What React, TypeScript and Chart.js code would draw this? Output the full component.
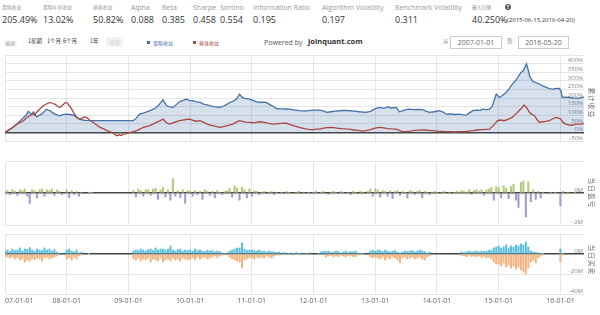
import React, { useEffect, useRef } from "react";
import { Chart, registerables } from "chart.js";
Chart.register(...registerables);

// ---------- data ----------
const statLabels = ["策略收益", "策略年化收益", "基准收益", "Alpha", "Beta", "Sharpe", "Sortino", "Information Ratio", "Algorithm Volatility", "Benchmark Volatility", "最大回撤"];
const statValues = ["205.49%", "13.02%", "50.82%", "0.088", "0.385", "0.458", "0.554", "0.195", "0.197", "0.311", "40.250%"];
const drawdownPeriod = "(2015-06-15,2016-04-20)";
const zoomButtons = ["1星期", "1个月", "6个月", "1年"];
const seriesNames = ["策略收益", "基准收益"];
const dateFrom = "2007-01-01";
const dateTo = "2016-05-20";
const panelTitles = ["累计收益", "当日盈亏", "当日买卖"];

const xStartYear = 2007;
const xEndYear = 2016.382; // 2016-05-20
const yearTicks = [2007, 2008, 2009, 2010, 2011, 2012, 2013, 2014, 2015, 2016];

// strategy cumulative return (%), by decimal year
const stratDates = [2007.00, 2007.04, 2007.08, 2007.12, 2007.16, 2007.19, 2007.23, 2007.27, 2007.30, 2007.34, 2007.38, 2007.41, 2007.43, 2007.46, 2007.49, 2007.51, 2007.55, 2007.59, 2007.63, 2007.67, 2007.70, 2007.73, 2007.77, 2007.81, 2007.85, 2007.89, 2007.93, 2008.00, 2008.05, 2008.11, 2008.15, 2008.21, 2008.26, 2008.30, 2008.38, 2009.08, 2009.12, 2009.18, 2009.24, 2009.30, 2009.35, 2009.40, 2009.44, 2009.48, 2009.52, 2009.56, 2009.59, 2009.62, 2009.66, 2009.72, 2009.77, 2009.82, 2009.86, 2009.90, 2009.94, 2009.98, 2010.05, 2010.10, 2010.16, 2010.22, 2010.27, 2010.32, 2010.38, 2010.43, 2010.48, 2010.53, 2010.58, 2010.64, 2010.70, 2010.75, 2010.78, 2010.80, 2010.84, 2010.88, 2010.92, 2010.96, 2011.03, 2011.08, 2011.13, 2011.18, 2011.23, 2011.30, 2011.36, 2011.40, 2011.48, 2011.55, 2011.61, 2011.68, 2011.77, 2011.85, 2011.95, 2012.04, 2012.10, 2012.16, 2012.21, 2012.28, 2012.35, 2012.42, 2012.50, 2012.58, 2012.66, 2012.74, 2012.85, 2012.92, 2013.00, 2013.07, 2013.14, 2013.20, 2013.26, 2013.34, 2013.37, 2013.39, 2013.45, 2013.50, 2013.55, 2013.62, 2013.70, 2013.77, 2013.82, 2013.88, 2013.95, 2014.04, 2014.10, 2014.15, 2014.22, 2014.30, 2014.36, 2014.42, 2014.47, 2014.52, 2014.58, 2014.64, 2014.70, 2014.74, 2014.80, 2014.85, 2014.89, 2014.93, 2014.96, 2015.01, 2015.06, 2015.12, 2015.17, 2015.22, 2015.27, 2015.31, 2015.36, 2015.40, 2015.45, 2015.48, 2015.50, 2015.55, 2015.60, 2015.66, 2015.71, 2015.77, 2015.82, 2015.87, 2015.92, 2015.98, 2016.01, 2016.03, 2016.08, 2016.14, 2016.20, 2016.26, 2016.30, 2016.35, 2016.38];
const stratRet = [0, 8, 19, 28, 40, 48, 62, 75, 87, 100, 122, 110, 106, 120, 104, 90, 98, 106, 118, 135, 130, 126, 115, 106, 100, 97, 103, 106, 104, 100, 90, 77, 72, 70, 68, 68, 80, 106, 112, 120, 126, 135, 142, 155, 172, 190, 170, 155, 150, 145, 160, 176, 184, 188, 194, 186, 184, 178, 174, 165, 160, 155, 150, 148, 145, 152, 160, 174, 182, 194, 210, 223, 205, 198, 196, 194, 185, 178, 174, 176, 174, 160, 148, 139, 137, 136, 135, 131, 126, 124, 128, 130, 130, 125, 116, 120, 124, 126, 128, 126, 124, 120, 116, 122, 138, 145, 140, 148, 142, 145, 130, 120, 126, 132, 135, 132, 134, 132, 124, 116, 120, 126, 118, 106, 108, 104, 106, 102, 100, 112, 126, 130, 128, 135, 132, 135, 150, 190, 223, 203, 215, 232, 255, 281, 300, 320, 349, 360, 398, 360, 327, 297, 290, 281, 270, 262, 255, 252, 255, 256, 240, 203, 205, 203, 200, 199, 197.5, 203, 205.5];

// benchmark cumulative return (%), by decimal year
const benchDates = [2007.00, 2007.05, 2007.09, 2007.13, 2007.18, 2007.23, 2007.27, 2007.30, 2007.35, 2007.40, 2007.45, 2007.48, 2007.51, 2007.55, 2007.58, 2007.62, 2007.67, 2007.70, 2007.73, 2007.77, 2007.81, 2007.85, 2007.89, 2007.93, 2007.97, 2008.00, 2008.03, 2008.06, 2008.08, 2008.12, 2008.16, 2008.21, 2008.24, 2008.28, 2008.32, 2008.37, 2008.43, 2008.48, 2008.54, 2008.60, 2008.65, 2008.70, 2008.75, 2008.81, 2008.85, 2008.88, 2008.91, 2008.96, 2009.02, 2009.08, 2009.14, 2009.19, 2009.24, 2009.30, 2009.35, 2009.40, 2009.45, 2009.50, 2009.56, 2009.60, 2009.64, 2009.67, 2009.72, 2009.78, 2009.83, 2009.88, 2009.94, 2009.99, 2010.05, 2010.10, 2010.16, 2010.22, 2010.27, 2010.32, 2010.38, 2010.43, 2010.48, 2010.54, 2010.60, 2010.65, 2010.69, 2010.74, 2010.80, 2010.85, 2010.90, 2010.96, 2011.03, 2011.08, 2011.13, 2011.20, 2011.27, 2011.34, 2011.40, 2011.48, 2011.56, 2011.62, 2011.70, 2011.77, 2011.85, 2011.92, 2011.99, 2012.05, 2012.10, 2012.16, 2012.22, 2012.31, 2012.38, 2012.45, 2012.52, 2012.58, 2012.65, 2012.72, 2012.80, 2012.85, 2012.92, 2013.00, 2013.07, 2013.14, 2013.20, 2013.27, 2013.34, 2013.40, 2013.45, 2013.50, 2013.57, 2013.64, 2013.72, 2013.80, 2013.86, 2013.93, 2014.00, 2014.07, 2014.15, 2014.22, 2014.30, 2014.36, 2014.44, 2014.52, 2014.58, 2014.65, 2014.72, 2014.80, 2014.85, 2014.90, 2014.95, 2014.98, 2015.03, 2015.09, 2015.15, 2015.22, 2015.27, 2015.33, 2015.37, 2015.41, 2015.45, 2015.50, 2015.54, 2015.58, 2015.62, 2015.66, 2015.71, 2015.76, 2015.82, 2015.87, 2015.93, 2015.98, 2016.01, 2016.04, 2016.09, 2016.14, 2016.20, 2016.25, 2016.30, 2016.35, 2016.38];
const benchRet = [0, 12, 20, 29, 45, 55, 62, 68, 85, 97, 108, 100, 116, 130, 142, 155, 165, 170, 174, 168, 164, 152, 145, 158, 170, 174, 160, 148, 135, 110, 90, 77, 82, 90, 87, 72, 58, 45, 29, 20, 10, 5, -5, -19, -14, -18, -10, -8, -2, 4, 12, 20, 29, 35, 40, 48, 58, 66, 77, 62, 52, 48, 55, 62, 68, 72, 75, 77, 70, 65, 68, 58, 50, 43, 38, 33, 29, 34, 40, 44, 48, 58, 68, 64, 60, 58, 56, 60, 62, 58, 52, 48, 50, 52, 54, 45, 36, 29, 22, 18, 16, 19, 19, 25, 28, 29, 25, 22, 20, 19, 14, 12, 8, 10, 16, 25, 29, 26, 22, 20, 19, 10, 4, 5, 8, 12, 13, 14, 12, 10, 8, 6, 4, 5, 3, 4, 5, 8, 10, 14, 16, 18, 19, 35, 55, 68, 72, 68, 76, 87, 105, 126, 140, 159, 145, 116, 105, 97, 75, 58, 62, 64, 68, 78, 87, 82, 77, 58, 48, 42, 43, 48, 48, 50, 51];

// bars: one value per 0.04-year period starting 2007.00 (25 per year)
const barStartYear = 2007;
const barPeriodYears = 0.04;
// daily profit / loss (M)
const pnlValues = [
  0.1, 0.15, -0.1, 0.2, 0.1, -0.15, 0.2, 0.15, 0.25, -0.2, -0.65, 0.2, 0.15, -0.3, 0.2, 0.25, -0.2, 0.2, 0.15, 0.25, -0.15, 0.2, 0.1, -0.1, 0,
  0.2, -0.3, 0.15, -0.1, 0.1, -0.2, 0.05, 0, 0, 0.05, 0.03, 0, 0, 0, 0, 0, 0, 0, 0, 0, 0, 0, 0, 0, 0,
  0, 0, 0.15, -0.25, 0.25, 0.15, -0.2, 0.2, 0.2, -0.15, 0.25, 0.3, -0.4, 0.2, 0.35, -0.25, 0.2, -0.45, 0.9, -0.2, 0.15, -0.3, 0.2, -0.65, 0.15,
  0.1, -0.2, 0.15, -0.1, 0.1, -0.4, 0.2, 0.1, -0.15, 0.1, -0.3, 0.15, 0.05, -0.1, 0.1, 0.15, 0.3, -0.25, 0.45, 0.3, -0.45, 0.35, 0.2, -0.3, 0.25,
  -0.2, 0.15, 0.1, -0.1, 0.05, 0.1, -0.05, 0.05, 0.1, -0.1, 0.05, 0, 0.05, -0.05, 0.1, 0.05, 0, -0.05, 0.05, 0.1, 0, 0.05, -0.05, 0.05, 0,
  0.05, 0.1, -0.05, 0.05, 0.1, 0, -0.1, 0.05, 0.1, 0.05, -0.05, 0.1, 0.05, 0, 0.05, -0.1, 0.1, 0.05, -0.05, 0.1, 0.05, 0, 0.1, 0.25, -0.2,
  0.25, 0.2, -0.25, 0.15, 0.1, -0.2, 0.15, -0.35, 0.1, 0.15, -0.15, 0.1, 0.05, -0.3, 0.15, 0.1, -0.1, 0.1, 0.15, -0.3, 0.1, 0.05, -0.1, 0.05, 0.1,
  0.05, -0.05, 0.05, 0.1, 0, 0.05, -0.05, 0.05, 0.1, 0.05, 0.15, 0.1, 0.05, 0.2, -0.1, 0.15, 0.2, 0.1, 0.2, -0.15, 0.2, 0.25, 0.35, -0.45, 0.4,
  0.35, -0.3, 0.45, 0.3, -0.35, 0.4, 0.55, -0.45, -0.9, 0.65, 0.75, -1.5, 0.7, -0.55, 0.2, -0.4, 0.1, -0.3, 0.05, 0, -0.05, 0.05, 0, 0.05, 0,
  -0.8, 0.1, 0, 0.05, 0, 0, 0.05, 0, 0,
];
// daily buys (M)
const buyValues = [
  3, 4, 2.5, 5, 3.5, 4, 6, 3, 5, 4.5, 6.5, 4, 3, 5, 4, 3.5, 6, 4, 5, 3, 4.5, 2, 0.5, 0, 0,
  4, 5, 3, 2, 4, 1, 2, 0, 0, 0.5, 0, 0, 0, 0, 0, 0, 0, 0, 0, 0, 0, 0, 0, 0, 0,
  0, 0, 3, 4, 3.5, 5, 4, 3, 4.5, 5, 3.5, 6, 4, 5, 5, 4, 5, 8, 4, 3, 4.5, 5, 3, 4, 3.5,
  4, 3, 5, 3.5, 4, 3, 2.5, 4, 3, 3.5, 2, 3, 2.5, 1, 0.5, 1, 3, 4, 5, 6, 6, 11, 5, 3.5, 4,
  4, 3.5, 3, 4, 2.5, 3, 2, 3, 2.5, 2, 1.5, 2, 1, 1.5, 1, 0.5, 1, 0.5, 1.5, 0.5, 1, 0, 0.5, 1, 0,
  0, 0, 0.5, 2, 3, 2.5, 3, 1.5, 2, 3, 2.5, 1, 2, 3, 1.5, 2.5, 2, 3, 1, 0.5, 0.5, 0, 0, 3, 4,
  3, 4, 3.5, 2.5, 4, 3, 2, 3, 3.5, 2, 1, 2, 3, 2.5, 3, 3.5, 2, 3, 4, 3, 2.5, 1, 2, 0, 0,
  0, 0, 0, 0, 0, 0, 0, 0, 0, 0, 2, 1.5, 2, 3, 2, 2.5, 3, 2, 3, 2.5, 3, 3.5, 4, 6, 7,
  8, 6, 7, 9, 6, 8, 7, 9, 8, 10, 9, 12, 7, 3, 2, 1.5, 1, 0.5, 0.5, 0, 0, 0, 0, 0, 0,
  5, 0.5, 0, 0, 0, 0, 0, 0, 0,
];
// daily sells (M)
const sellValues = [
  -2, -3, -4, -3, -5, -4, -6, -5, -8, -6, -7, -5, -6, -4, -5, -7, -4, -3, -5, -4, -3, -2, 0, 0, 0,
  -5, -4, -6, -3, -5, -2, -1, 0, 0, -0.5, 0, 0, 0, 0, 0, 0, 0, 0, 0, 0, 0, 0, 0, 0, 0,
  0, 0, -5, -6, -4, -7, -5, -6, -4, -8, -5, -6, -7, -4, -8, -6, -5, -7, -4, -6, -5, -7, -4, -5, -6,
  -5, -4, -6, -3, -5, -4, -3, -5, -4, -3, -2, -4, -2, -1, 0, -1, -3, -5, -6, -7, -8, -14, -6, -5, -4,
  -4, -5, -3, -4, -3, -4, -2, -3, -4, -2, -1, -1, 0, -0.5, 0, 0, 0, 0, -0.5, 0, 0, -1, 0, 0, -0.5,
  0, 0, 0, 0, 0, -3, -2, -1.5, -3, -2, -2.5, -1, -2, -3, -1.5, -2, -2.5, -3, -1, -0.5, 0, 0, 0, -3, -4,
  -3, -4, -5, -3, -6, -4, -5, -3, -4, -6, -9, -4, -3, -5, -4, -3, -5, -4, -3, -5, -6, -3, -2, 0, 0,
  0, 0, 0, 0, 0, 0, 0, 0, 0, 0, -1.5, -2, -3, -1, -2.5, -2, -3, -2, -3.5, -2.5, -4, -3, -5, -8, -10,
  -10, -12, -9, -13, -11, -14, -12, -15, -13, -16, -18, -20, -14, -8, -6, -9, -4, -2, -1, 0, 0, 0, 0, 0, 0,
  -8, -1, 0, 0, 0, 0, 0, 0, 0,
];

// ---------- styles ----------
const LATIN = '"Open Sans", "Noto Sans CJK SC", sans-serif';
const CJK = '"Noto Sans CJK SC", "Open Sans", sans-serif';
const BLUE = "#4572A7";
const RED = "#AA4643";
const GRID = "#e6e6e6";

const toPoints = (xs: number[], ys: number[]) => xs.map((x, i) => ({ x, y: ys[i] }));
const barPoints = (vals: number[]) =>
  vals.map((v, i) => ({ x: barStartYear + i * barPeriodYears, y: v })).filter((p) => p.y !== 0);

function xAxis(showLabels: boolean) {
  return {
    type: "linear",
    min: xStartYear,
    max: xEndYear,
    offset: false,
    afterBuildTicks: (s: any) => {
      s.ticks = [...yearTicks, xEndYear].map((v) => ({ value: v }));
    },
    grid: {
      color: (c: any) => (c.tick && c.tick.value === xEndYear ? "rgba(0,0,0,0)" : GRID),
      drawTicks: false,
      offset: false,
    },
    border: { display: false },
    ticks: {
      display: showLabels,
      align: "inner",
      autoSkip: false,
      maxRotation: 0,
      padding: 3,
      color: "#666",
      font: { size: 7, family: LATIN },
      callback: (v: number) => (Number.isInteger(v) ? `${String(v).slice(2)}-01-01` : ""),
    },
  };
}

function yAxis(min: number, max: number, step: number, fmt: (v: number) => string) {
  return {
    type: "linear",
    position: "right",
    min,
    max,
    grid: {
      color: (c: any) => (c.tick && c.tick.value === 0 ? "#444" : GRID),
      lineWidth: (c: any) => (c.tick && c.tick.value === 0 ? 1.4 : 1),
      drawTicks: false,
    },
    border: { display: false },
    ticks: {
      stepSize: step,
      autoSkip: false,
      mirror: true,
      padding: -1,
      labelOffset: -3,
      color: "#888",
      font: { size: 6, family: LATIN },
      callback: (v: number) => (v === max ? "" : fmt(v)),
    },
  };
}

const base = {
  animation: false,
  responsive: false,
  events: [],
  plugins: { legend: { display: false }, tooltip: { enabled: false } },
};

function T(props: { x: number; y: number; size: number; color?: string; bold?: boolean; cjk?: boolean; children: any }) {
  return (
    <span
      style={{
        position: "absolute",
        left: props.x,
        top: props.y,
        transform: "translateY(-50%)",
        fontSize: props.size,
        lineHeight: 1,
        color: props.color || "#333",
        fontWeight: props.bold ? 700 : 400,
        fontFamily: props.cjk ? CJK : LATIN,
        whiteSpace: "nowrap",
      }}
    >
      {props.children}
    </span>
  );
}

const labelX = [2, 43, 93, 131, 162, 193, 220, 253, 322, 395, 472];
const isCjk = (s: string) => /[\u4e00-\u9fff]/.test(s);

export default function App() {
  const c1 = useRef<HTMLCanvasElement>(null);
  const c2 = useRef<HTMLCanvasElement>(null);
  const c3 = useRef<HTMLCanvasElement>(null);

  useEffect(() => {
    const charts: Chart[] = [];
    charts.push(
      new Chart(c1.current!, {
        type: "line",
        data: {
          datasets: [
            { data: toPoints(benchDates, benchRet), borderColor: RED, borderWidth: 1.3, pointRadius: 0, fill: false, tension: 0 },
            { data: toPoints(stratDates, stratRet), borderColor: BLUE, borderWidth: 1.3, pointRadius: 0, fill: "origin", backgroundColor: "rgba(69,114,167,0.22)", tension: 0 },
          ],
        },
        options: {
          ...base,
          layout: { padding: { left: 5, right: 16, top: 5, bottom: 5 } },
          scales: { x: xAxis(false), y: yAxis(-50, 450, 50, (v) => `${v}%`) },
        } as any,
      })
    );
    charts.push(
      new Chart(c2.current!, {
        type: "bar",
        data: {
          datasets: [
            {
              data: barPoints(pnlValues),
              backgroundColor: (c: any) => (c.raw && c.raw.y >= 0 ? "#b3c97a" : "#9d9ad6"),
              barThickness: 1.4,
              borderWidth: 0,
              grouped: false,
            },
          ],
        },
        options: {
          ...base,
          layout: { padding: { left: 5, right: 16, top: 5, bottom: 5 } },
          scales: { x: xAxis(false), y: yAxis(-2, 2, 2, (v) => `${v}M`) },
        } as any,
      })
    );
    charts.push(
      new Chart(c3.current!, {
        type: "bar",
        data: {
          datasets: [
            { data: barPoints(buyValues), backgroundColor: "#5dbfdd", barThickness: 1.4, borderWidth: 0, grouped: false },
            { data: barPoints(sellValues), backgroundColor: "#f3b47f", barThickness: 1.4, borderWidth: 0, grouped: false },
          ],
        },
        options: {
          ...base,
          layout: { padding: { left: 5, right: 16, top: 5, bottom: 6.6 } },
          scales: { x: xAxis(true), y: yAxis(-40, 20, 20, (v) => `${v}M`) },
        } as any,
      })
    );
    return () => charts.forEach((c) => c.destroy());
  }, []);

  return (
    <div style={{ position: "absolute", left: 0, top: 0, width: 600, height: 315, background: "#fff", overflow: "hidden", fontFamily: LATIN }}>
      {statLabels.map((s, i) => (
        <T key={"l" + i} x={labelX[i]} y={7} size={isCjk(s) ? 4.8 : 7} color="#999" cjk={isCjk(s)}>
          {s}
        </T>
      ))}
      <span style={{ position: "absolute", left: 505, top: 4, width: 6, height: 6, borderRadius: 3, background: "#555", color: "#fff", fontSize: 5, lineHeight: "6px", textAlign: "center", fontFamily: LATIN, fontWeight: 700 }}>?</span>
      {statValues.map((s, i) => (
        <T key={"v" + i} x={labelX[i]} y={19} size={9} color="#333">
          {s}
        </T>
      ))}
      <T x={507} y={20} size={6} color="#333">{drawdownPeriod}</T>

      <T x={5} y={42} size={5} color="#888" cjk>缩放:</T>
      {zoomButtons.map((s, i) => (
        <T key={"z" + i} x={[28, 47, 63, 90][i]} y={42} size={5.5} color="#333" cjk>
          {s}
        </T>
      ))}
      <span style={{ position: "absolute", left: 106, top: 37, width: 17, height: 10, background: "#f2f2f2", color: "#ccc", fontSize: 5, lineHeight: "10px", textAlign: "center", fontFamily: CJK }}>全部</span>
      <span style={{ position: "absolute", left: 147, top: 40.5, width: 3, height: 3, background: BLUE }} />
      <T x={153} y={42} size={5} color={BLUE} cjk>{seriesNames[0]}</T>
      <span style={{ position: "absolute", left: 193, top: 40.5, width: 3, height: 3, background: RED }} />
      <T x={199} y={42} size={5} color={RED} cjk>{seriesNames[1]}</T>
      <T x={264} y={42} size={7} color="#555">Powered by</T>
      <T x={308} y={42} size={7.5} color="#333" bold>joinquant.com</T>
      <T x={443} y={42} size={5.5} color="#888" cjk>从</T>
      <span style={{ position: "absolute", left: 450, top: 36, width: 50, height: 11, border: "1px solid #ccc", color: "#666", fontSize: 7, lineHeight: "11px", textAlign: "center", fontFamily: LATIN }}>{dateFrom}</span>
      <T x={507} y={42} size={5.5} color="#888" cjk>到</T>
      <span style={{ position: "absolute", left: 518, top: 36, width: 49, height: 11, border: "1px solid #ccc", color: "#666", fontSize: 7, lineHeight: "11px", textAlign: "center", fontFamily: LATIN }}>{dateTo}</span>

      <canvas ref={c1} width={600} height={96} style={{ position: "absolute", left: 0, top: 50 }} />
      <canvas ref={c2} width={600} height={74} style={{ position: "absolute", left: 0, top: 156 }} />
      <canvas ref={c3} width={600} height={86} style={{ position: "absolute", left: 0, top: 229 }} />

      {panelTitles.map((s, i) => (
        <span
          key={"p" + i}
          style={{
            position: "absolute",
            left: 592,
            top: [103, 193, 260][i],
            transform: "translate(-50%,-50%) rotate(90deg)",
            fontSize: 6.5,
            letterSpacing: 1.2,
            lineHeight: 1,
            color: "#666",
            fontFamily: CJK,
            whiteSpace: "nowrap",
          }}
        >
          {s}
        </span>
      ))}
    </div>
  );
}
